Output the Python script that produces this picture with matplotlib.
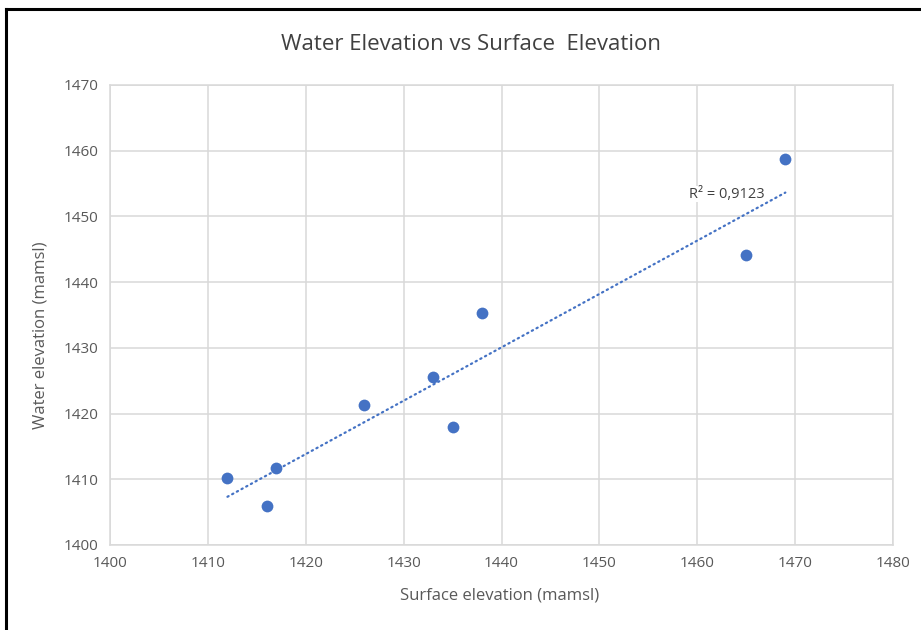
import matplotlib
matplotlib.use("Agg")
import matplotlib.pyplot as plt
from matplotlib.lines import Line2D
import numpy as np

surface_elev = [1412, 1416, 1417, 1426, 1433, 1435, 1438, 1465, 1469]
water_elev = [1410.2, 1405.9, 1411.7, 1421.3, 1425.6, 1418.0, 1435.3, 1444.1, 1458.8]
x_ticks = [1400, 1410, 1420, 1430, 1440, 1450, 1460, 1470, 1480]
y_ticks = [1400, 1410, 1420, 1430, 1440, 1450, 1460, 1470]
r2_label = "R² = 0,9123"

plt.rcParams['font.family'] = ['Open Sans', 'DejaVu Sans']

blue = "#4472C4"
grid = "#D9D9D9"
txt = "#595959"

fig = plt.figure(figsize=(9.21, 6.30), dpi=100)
ax = fig.add_axes([110/921, 85/630, (893-110)/921, (545-85)/630])

ax.set_xlim(x_ticks[0], x_ticks[-1])
ax.set_ylim(y_ticks[0], y_ticks[-1])
ax.set_xticks(x_ticks)
ax.set_yticks(y_ticks)
ax.grid(True, color=grid, linewidth=1.1)
ax.set_axisbelow(True)
for s in ax.spines.values():
    s.set_color(grid)
    s.set_linewidth(1.1)
ax.tick_params(length=0, labelsize=11, colors=txt, pad=8)

ax.scatter(surface_elev, water_elev, s=72, color=blue, zorder=3, linewidths=0)

# linear trendline over the data range
xs = np.array(surface_elev, dtype=float)
ys = np.array(water_elev, dtype=float)
k, b = np.polyfit(xs, ys, 1)
xl = np.array([xs.min(), xs.max()])
ax.plot(xl, k * xl + b, color=blue, linewidth=1.6,
        linestyle=(0, (0.6, 1.8)), dash_capstyle='round', zorder=2)

ax.text(1459.2, 1453.4, r2_label, fontsize=10.5, color="#404040",
        ha='left', va='center', zorder=4,
        bbox=dict(facecolor='white', edgecolor='none', pad=0.5))

ax.set_xlabel("Surface elevation (mamsl)", fontsize=12, color=txt)
ax.set_ylabel("Water elevation (mamsl)", fontsize=12, color=txt)
ax.xaxis.set_label_coords(0.498, -0.092)
ax.yaxis.set_label_coords(-0.079, 0.455)
fig.text(471/921, 1 - 45/630, "Water Elevation vs Surface  Elevation",
         fontsize=16, color="#404040", ha='center', va='center')

# frame lines along the top and left edges
fig.add_artist(Line2D([6/921, 1], [1 - 9/630, 1 - 9/630], color='black', linewidth=2.2,
                      transform=fig.transFigure))
fig.add_artist(Line2D([6/921, 6/921], [1 - 9/630, 0], color='black', linewidth=2.2,
                      transform=fig.transFigure))

fig.savefig("out.png", dpi=100, facecolor='white')
